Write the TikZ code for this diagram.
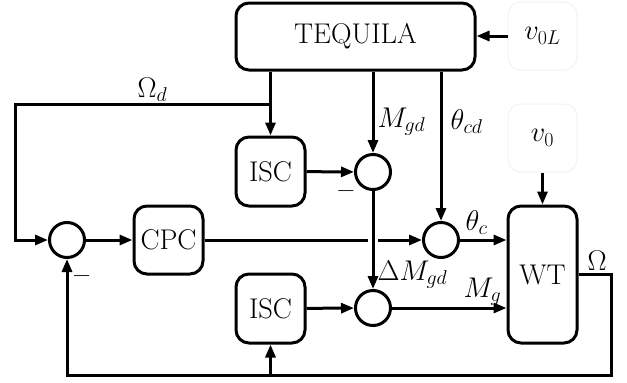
\RequirePackage{fix-cm}
\documentclass[tikz,border=0pt]{standalone}
\usetikzlibrary{arrows.meta,calc}
\begin{document}
\begin{tikzpicture}[x=1pt,y=-1pt, line width=3pt,
  font=\fontsize{28.5}{32}\selectfont,
  >={Triangle[length=13pt,width=10pt]},
  blk/.style={draw, rounded corners=13pt, inner sep=0pt},
  sumc/.style={draw, circle, minimum size=35pt, inner sep=0pt},
  ghost/.style={draw=black!5, line width=1pt, rounded corners=13pt, minimum width=69pt, minimum height=68pt, inner sep=0pt},
  lbl/.style={inner sep=0pt, anchor=base west},
  minus/.style={inner sep=0pt, anchor=base, font=\fontsize{27}{28}\selectfont\bfseries}]
\useasboundingbox (0,0) rectangle (627,383);
% blocks
\node[blk, minimum width=239pt, minimum height=67pt] (teq) at (355.5,36.5) {TEQUILA};
\node[ghost] (v0L) at (542.5,36) {$v_{0L}$};
\node[ghost] (v0) at (542.5,138) {$v_0$};
\node[blk, minimum width=69pt, minimum height=69pt] (isc1) at (270.5,171.5) {ISC};
\node[blk, minimum width=69pt, minimum height=68pt] (cpc) at (168.5,240) {CPC};
\node[blk, minimum width=69pt, minimum height=69pt] (isc2) at (270.5,308.5) {ISC};
\node[blk, minimum width=69pt, minimum height=137pt] (wt) at (542.5,274.5) {WT};
% summing junctions
\node[sumc] (c1) at (67,240) {};
\node[sumc] (c2) at (373,172) {};
\node[sumc] (c3) at (441,240) {};
\node[sumc] (c4) at (373,308) {};
% coordinates
\coordinate (jd) at (isc1.north |- 0,104);
\coordinate (tl) at (15,104);
\coordinate (fr) at (611,274.5);
\coordinate (br) at (611,375);
\coordinate (bm) at (isc2.south |- br);
\coordinate (xc) at (c2 |- c3);
% connectors
\draw[->] (v0L.west) -- (teq.east |- v0L.west);
\draw[->] (v0.south) -- (wt.north);
\draw[->] (teq.south -| isc1.north) -- (isc1.north);
\draw[->] (jd) -- (tl) |- (c1.west);
\draw[->] (c1) -- (cpc);
\draw[->] (cpc) -- (c3);
\draw[->] (isc1) -- (c2);
\draw[->] (teq.south -| c2) -- (c2);
\draw[->] (teq.south -| c3) -- (c3);
\draw[white, line width=10pt] ([yshift=-2.5pt]xc) -- ([yshift=2.5pt]xc);
\draw[->] (c2) -- (c4);
\draw[->] (isc2) -- (c4);
\draw[->] (c3) -- (wt.west |- c3);
\draw[->] (c4) -- (wt.west |- c4);
\draw[->] (wt.east) -- (fr) -- (br) -| (c1.south);
\draw[->] (bm) -- (isc2.south);
% labels
\node[lbl] (lOd) at (136,97) {$\Omega_d$};
\node[lbl] (lMgd) at (376,127) {$M_{gd}$};
\node[lbl] (ltcd) at (449,129) {$\theta_{cd}$};
\node[lbl] (ltc) at (464,230) {$\theta_c$};
\node[lbl] (ldM) at (376,280) {$\Delta M_{gd}$};
\node[lbl] (lMg) at (462,297) {$M_g$};
\node[lbl] (lO) at (586,270) {$\Omega$};
\node[minus] (m1) at (81.7,283) {--};
\node[minus] (m2) at (346,198) {--};
\end{tikzpicture}
\end{document}
